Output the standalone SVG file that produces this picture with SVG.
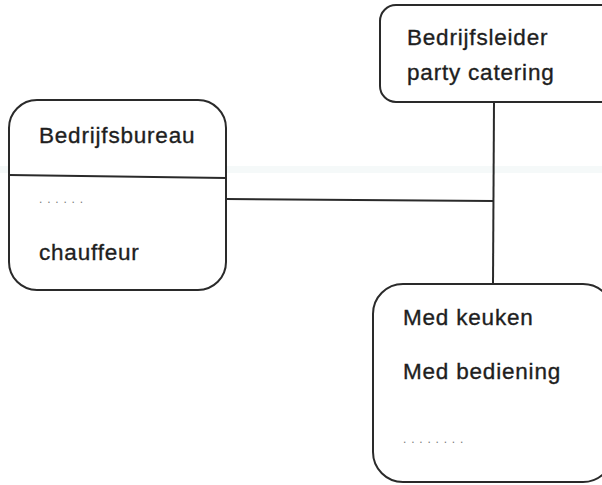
<svg xmlns="http://www.w3.org/2000/svg" width="602" height="485" viewBox="0 0 602 485">
  <style>
    .box { fill: #ffffff; stroke: #2a2a2a; stroke-width: 2; }
    .link { stroke: #2a2a2a; stroke-width: 2; fill: none; }
    .lbl { font-family: "Liberation Sans", Arial, sans-serif; font-size: 22.5px; letter-spacing: 0.8px; fill: #1e1e1e; stroke: #1e1e1e; stroke-width: 0.35px; }
    .dots { font-family: "Liberation Sans", Arial, sans-serif; font-size: 12px; letter-spacing: 4.8px; fill: #7a7a7a; }
  </style>
  <rect x="0" y="0" width="602" height="485" fill="#ffffff"/>
  <!-- faint horizontal band across the sheet -->
  <rect x="0" y="166" width="602" height="7" fill="#f5f9f9"/>

  <g id="connectors">
    <line class="link" x1="226" y1="199" x2="493" y2="201"/>
    <line class="link" x1="494" y1="102" x2="493" y2="284"/>
  </g>

  <g id="bedrijfsleider">
    <rect class="box" x="380" y="5" width="240" height="97" rx="16"/>
    <text class="lbl" x="407" y="45">Bedrijfsleider</text>
    <text class="lbl" x="407" y="80">party catering</text>
  </g>

  <g id="bedrijfsbureau">
    <rect class="box" x="9" y="100" width="217" height="190" rx="28"/>
    <line class="link" x1="9" y1="175" x2="226" y2="178"/>
    <text class="lbl" x="39" y="143">Bedrijfsbureau</text>
    <text class="dots" x="39" y="203">......</text>
    <text class="lbl" x="39" y="260">chauffeur</text>
  </g>

  <g id="medewerkers">
    <rect class="box" x="373" y="284" width="240" height="198" rx="30"/>
    <text class="lbl" x="403" y="325">Med keuken</text>
    <text class="lbl" x="403" y="379">Med bediening</text>
    <text class="dots" x="403" y="443">........</text>
  </g>
</svg>
